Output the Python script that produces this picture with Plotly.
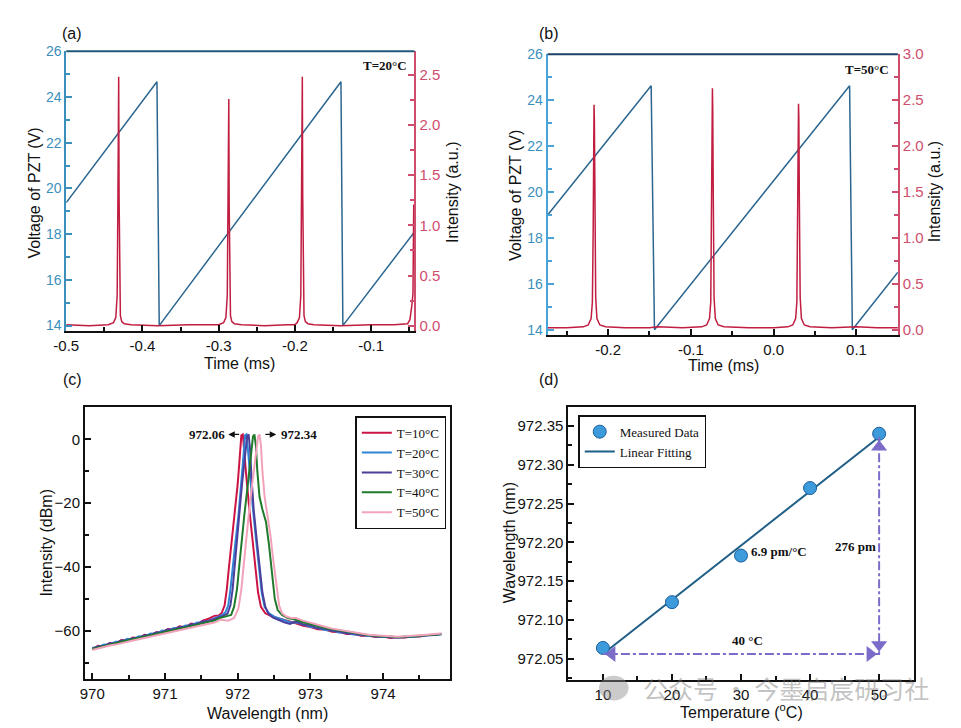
import numpy as np
import plotly.graph_objects as go

W, H = 961, 728

# ---------------- (a) T = 20 C ----------------
a_pzt_t = [-0.500, -0.381, -0.378, -0.1395, -0.137, -0.043]
a_pzt_v = [19.38, 24.67, 14.00, 24.67, 14.00, 18.10]
a_int_t = [-0.500, -0.470, -0.445, -0.4380, -0.4350, -0.4332, -0.4322, -0.4317, -0.4312, -0.4307, -0.4300, -0.4290, -0.4272, -0.4240, -0.4150,
           -0.380, -0.340,
           -0.3000, -0.2935, -0.2905, -0.2887, -0.2877, -0.2872, -0.2867, -0.2862, -0.2855, -0.2845, -0.2827, -0.2795, -0.2700,
           -0.240, -0.210,
           -0.2000, -0.1970, -0.1940, -0.1922, -0.1912, -0.1907, -0.1902, -0.1897, -0.1890, -0.1880, -0.1862, -0.1830, -0.1750,
           -0.140, -0.100, -0.070,
           -0.0520, -0.0490, -0.0465, -0.0450, -0.0440, -0.0430]
a_int_v = [0.01, 0.00, 0.01, 0.03, 0.08, 0.30, 1.28, 1.90, 2.48, 1.30, 0.30, 0.10, 0.04, 0.02, 0.01,
           0.00, 0.01,
           0.01, 0.03, 0.08, 0.30, 1.12, 1.70, 2.26, 1.20, 0.30, 0.10, 0.04, 0.02, 0.01,
           0.00, 0.01,
           0.01, 0.03, 0.08, 0.30, 1.30, 1.90, 2.48, 1.30, 0.30, 0.10, 0.04, 0.02, 0.01,
           0.00, 0.01, 0.01,
           0.02, 0.06, 0.20, 0.32, 1.20, 1.20]
a_x_ticks = [-0.5, -0.4, -0.3, -0.2, -0.1]
a_x_labels = ["-0.5", "-0.4", "-0.3", "-0.2", "-0.1"]

# ---------------- (b) T = 50 C ----------------
b_pzt_t = [-0.273, -0.148, -0.144, 0.0917, 0.095, 0.150]
b_pzt_v = [19.00, 24.63, 14.00, 24.63, 14.00, 16.50]
b_int_t = [-0.273, -0.250, -0.2300, -0.2240, -0.2205, -0.2190, -0.2180, -0.2174, -0.2170, -0.2166, -0.2160, -0.2150, -0.2135, -0.2100, -0.2030,
           -0.180, -0.150, -0.140, -0.110,
           -0.0870, -0.0810, -0.0775, -0.0760, -0.0750, -0.0744, -0.0740, -0.0736, -0.0730, -0.0720, -0.0705, -0.0670, -0.0600,
           -0.030, 0.000,
           0.0170, 0.0230, 0.0265, 0.0280, 0.0290, 0.0296, 0.0300, 0.0304, 0.0310, 0.0320, 0.0335, 0.0370, 0.0440,
           0.070, 0.100, 0.125, 0.150]
b_int_v = [0.02, 0.02, 0.03, 0.05, 0.12, 0.30, 1.10, 2.20, 2.45, 2.30, 1.60, 0.35, 0.12, 0.05, 0.03,
           0.02, 0.02, 0.03, 0.02,
           0.03, 0.05, 0.12, 0.30, 1.20, 2.35, 2.63, 2.40, 1.50, 0.35, 0.12, 0.05, 0.03,
           0.02, 0.02,
           0.03, 0.05, 0.12, 0.30, 1.10, 2.25, 2.46, 2.30, 1.40, 0.35, 0.12, 0.05, 0.03,
           0.02, 0.03, 0.02, 0.02]
b_x_ticks = [-0.2, -0.1, 0.0, 0.1]
b_x_labels = ["-0.2", "-0.1", "0.0", "0.1"]

# ---------------- (c) spectra ----------------
spec_names = ["T=10°C", "T=20°C", "T=30°C", "T=40°C", "T=50°C"]
left_tail_nm = [970.00, 970.08, 970.16, 970.24, 970.32, 970.40, 970.48, 970.56, 970.64, 970.72, 970.80,
                970.88, 970.96, 971.04, 971.12, 971.20, 971.28, 971.36, 971.44, 971.52, 971.60, 971.68]
right_tail_nm = [972.80, 972.90, 973.00, 973.10, 973.20, 973.30, 973.40, 973.50, 973.60, 973.70, 973.80,
                 973.90, 974.00, 974.10, 974.20, 974.30, 974.40, 974.50, 974.60, 974.70, 974.80]
left_tail_dbm = [
    [-65.8, -64.7, -64.9, -63.8, -64.0, -62.9, -63.1, -62.1, -62.3, -61.2, -61.5, -60.4, -60.5, -59.4, -59.7, -58.6, -58.9, -57.7, -58.0, -56.8, -56.2, -55.3],
    [-65.3, -65.2, -64.3, -64.4, -63.4, -63.5, -62.5, -62.7, -61.7, -61.9, -60.8, -61.0, -59.9, -60.1, -59.1, -59.3, -58.3, -58.4, -57.4, -57.5, -56.9, -56.0],
    [-65.6, -64.8, -64.8, -63.9, -63.9, -63.0, -63.0, -62.2, -62.2, -61.4, -61.3, -60.5, -60.4, -59.6, -59.5, -58.8, -58.8, -57.9, -57.9, -57.0, -56.9, -56.3],
    [-65.7, -65.2, -64.8, -64.3, -63.9, -63.4, -63.0, -62.6, -62.2, -61.8, -61.3, -60.9, -60.5, -60.0, -59.7, -59.2, -58.9, -58.4, -58.1, -57.6, -57.2, -56.8],
    [-66.0, -65.5, -65.1, -64.6, -64.3, -63.8, -63.4, -63.0, -62.6, -62.2, -61.8, -61.4, -61.0, -60.6, -60.2, -59.8, -59.4, -59.0, -58.7, -58.2, -57.9, -57.4],
]
core_nm = [
    [971.74, 971.78, 971.82, 971.85, 971.88, 971.92, 971.96, 972.00, 972.03, 972.05, 972.07, 972.09, 972.12, 972.16, 972.20, 972.24, 972.28, 972.32, 972.38, 972.46, 972.55, 972.65, 972.72],
    [971.73, 971.79, 971.83, 971.87, 971.90, 971.93, 971.97, 972.01, 972.05, 972.08, 972.10, 972.12, 972.14, 972.17, 972.21, 972.25, 972.29, 972.33, 972.37, 972.43, 972.51, 972.59, 972.67, 972.73],
    [971.74, 971.80, 971.86, 971.90, 971.93, 971.96, 971.99, 972.02, 972.06, 972.10, 972.13, 972.15, 972.17, 972.19, 972.22, 972.26, 972.30, 972.34, 972.38, 972.42, 972.48, 972.56, 972.64, 972.72],
    [971.75, 971.83, 971.91, 971.95, 971.99, 972.02, 972.05, 972.09, 972.14, 972.18, 972.21, 972.23, 972.25, 972.27, 972.30, 972.34, 972.39, 972.43, 972.47, 972.51, 972.55, 972.61, 972.69, 972.75],
    [971.77, 971.87, 971.95, 972.01, 972.05, 972.08, 972.11, 972.15, 972.20, 972.25, 972.28, 972.30, 972.32, 972.34, 972.37, 972.41, 972.45, 972.49, 972.53, 972.57, 972.61, 972.67, 972.74],
]
core_dbm = [
    [-55.2, -54.4, -52.0, -47.0, -40.0, -32.0, -24.0, -14.0, -5.0, 1.2, 1.5, -3.0, -12.0, -22.0, -31.0, -40.0, -48.0, -52.5, -54.5, -55.4, -56.0, -56.6, -56.9],
    [-55.6, -55.0, -54.2, -52.0, -47.0, -40.0, -32.0, -24.0, -14.0, -5.0, 1.2, 1.5, -3.0, -12.0, -22.0, -31.0, -40.0, -48.0, -52.5, -54.5, -55.6, -56.3, -57.0, -57.4],
    [-55.8, -55.3, -54.6, -52.0, -47.0, -40.0, -32.0, -24.0, -14.0, -5.0, 1.0, 1.5, -3.0, -12.0, -22.0, -31.0, -40.0, -48.0, -52.5, -54.5, -55.8, -56.6, -57.3, -57.8],
    [-56.0, -55.6, -55.0, -52.5, -47.0, -40.0, -32.0, -24.0, -14.0, -5.0, 0.8, 1.5, -2.0, -10.0, -18.0, -22.0, -26.0, -33.0, -42.0, -50.0, -53.5, -55.0, -56.0, -56.3],
    [-56.5, -56.8, -56.0, -53.0, -47.0, -40.0, -32.0, -24.0, -14.0, -5.0, 0.8, 1.5, -2.0, -10.0, -18.0, -24.0, -30.0, -38.0, -46.0, -52.0, -54.5, -55.5, -56.0],
]
right_tail_dbm = [
    [-57.6, -58.4, -58.8, -59.5, -59.6, -60.3, -60.4, -61.0, -61.0, -61.5, -61.5, -61.9, -61.8, -62.2, -62.0, -62.1, -61.8, -61.8, -61.4, -61.3, -61.0],
    [-57.3, -58.0, -58.7, -59.1, -59.7, -59.9, -60.5, -60.6, -61.1, -61.2, -61.6, -61.6, -61.9, -61.9, -62.1, -61.9, -61.9, -61.6, -61.5, -61.2, -61.1],
    [-57.0, -58.0, -58.3, -59.2, -59.3, -60.0, -60.1, -60.8, -60.8, -61.4, -61.3, -61.8, -61.7, -62.1, -61.9, -62.0, -61.7, -61.7, -61.3, -61.3, -60.9],
    [-56.5, -57.3, -58.0, -58.5, -59.1, -59.5, -60.0, -60.4, -60.8, -61.1, -61.4, -61.5, -61.8, -61.8, -62.0, -61.8, -61.8, -61.5, -61.4, -61.1, -61.0],
    [-56.0, -56.8, -57.5, -58.2, -58.7, -59.3, -59.7, -60.2, -60.6, -60.9, -61.2, -61.4, -61.6, -61.7, -61.8, -61.7, -61.6, -61.4, -61.2, -61.0, -60.8],
]
peak_first, peak_last = 972.06, 972.34

# ---------------- (d) wavelength vs temperature ----------------
temps = [10, 20, 30, 40, 50]
wl = [972.064, 972.123, 972.183, 972.270, 972.340]

SANS = "Liberation Sans, Arial, sans-serif"
SERIF = "Liberation Serif, Times New Roman, serif"
TEAL = "#3b8fbd"
PINK = "#cf4d6c"
PZT = "#2b6690"
SPIKE = "#c11d40"
spec_colors = ["#cc1444", "#2f86d6", "#4b3f9c", "#1f7a2c", "#f2a3bb"]
ARROW = "#7b6cc9"


def P(xp, yp):
    return xp / W, 1 - yp / H


fig = go.Figure()

# (a)
fig.add_trace(go.Scatter(x=a_pzt_t, y=a_pzt_v, mode="lines", line=dict(color=PZT, width=1.5),
                         xaxis="x", yaxis="y", showlegend=False))
fig.add_trace(go.Scatter(x=a_int_t, y=a_int_v, mode="lines", line=dict(color=SPIKE, width=1.5),
                         xaxis="x", yaxis="y2", showlegend=False))
# (b)
fig.add_trace(go.Scatter(x=b_pzt_t, y=b_pzt_v, mode="lines", line=dict(color=PZT, width=1.5),
                         xaxis="x2", yaxis="y3", showlegend=False))
fig.add_trace(go.Scatter(x=b_int_t, y=b_int_v, mode="lines", line=dict(color=SPIKE, width=1.5),
                         xaxis="x2", yaxis="y4", showlegend=False))
# (c)
for i, name in enumerate(spec_names):
    xs = left_tail_nm + core_nm[i] + right_tail_nm
    ys = left_tail_dbm[i] + core_dbm[i] + right_tail_dbm[i]
    fig.add_trace(go.Scatter(x=xs, y=ys, mode="lines", name=name,
                             line=dict(color=spec_colors[i], width=2),
                             xaxis="x3", yaxis="y5", legend="legend"))
# (d)
slope, icpt = np.polyfit(temps, wl, 1)
fit_x = [temps[0], temps[-1]]
fit_y = [slope * t + icpt for t in fit_x]
fig.add_trace(go.Scatter(x=fit_x, y=fit_y, mode="lines", name="Linear Fitting",
                         line=dict(color="#1f5e86", width=2), xaxis="x4", yaxis="y6",
                         legend="legend2", legendrank=2))
fig.add_trace(go.Scatter(x=temps, y=wl, mode="markers", name="Measured Data",
                         marker=dict(color="#3d9bdc", size=13, line=dict(color="#1c5f9a", width=1)),
                         xaxis="x4", yaxis="y6", legend="legend2", legendrank=1))
# dash-dot guides
fig.add_trace(go.Scatter(x=[temps[0], temps[-1], temps[-1]], y=[fit_y[0], fit_y[0], fit_y[1]],
                         mode="lines", line=dict(color=ARROW, width=2, dash="dashdot"),
                         xaxis="x4", yaxis="y6", showlegend=False))
fig.add_trace(go.Scatter(x=[temps[0] + 1.3, temps[-1] - 1.3, temps[-1], temps[-1]],
                         y=[fit_y[0], fit_y[0], fit_y[0] + 0.012, fit_y[1] - 0.013],
                         mode="markers",
                         marker=dict(symbol=["triangle-left", "triangle-right", "triangle-down", "triangle-up"],
                                     size=14, color=ARROW),
                         xaxis="x4", yaxis="y6", showlegend=False))

common_ax = dict(showgrid=False, zeroline=False, showline=True, ticks="inside", ticklen=6, tickwidth=1.5,
                 linewidth=2)

fig.update_layout(
    width=W, height=H, margin=dict(l=0, r=0, t=0, b=0),
    paper_bgcolor="white", plot_bgcolor="white",
    font=dict(family=SANS, size=14, color="#222"),
    xaxis=dict(domain=[54 / W, 407 / W], anchor="y", range=[-0.5, -0.043],
               tickvals=a_x_ticks, ticktext=a_x_labels, linecolor="#111", tickcolor="#111",
               minor=dict(ticks="inside", dtick=0.05, ticklen=4, tickcolor="#111"),
               tickfont=dict(size=15, color="#111"), **common_ax),
    yaxis=dict(domain=[1 - 327 / H, 1 - 43 / H], anchor="x", range=[13.78, 26], dtick=2,
               linecolor=TEAL, tickcolor=TEAL, tickfont=dict(size=14, color=TEAL),
               minor=dict(ticks="inside", dtick=1, ticklen=4, tickcolor=TEAL), **common_ax),
    yaxis2=dict(overlaying="y", side="right", anchor="x", range=[-0.049, 2.735], dtick=0.5, tickformat=".1f",
                linecolor=PINK, tickcolor=PINK, tickfont=dict(size=15, color=PINK),
                minor=dict(ticks="inside", dtick=0.25, ticklen=4, tickcolor=PINK), **common_ax),
    xaxis2=dict(domain=[542 / W, 897 / W], anchor="y3", range=[-0.273, 0.15],
                tickvals=b_x_ticks, ticktext=b_x_labels, linecolor="#111", tickcolor="#111",
                minor=dict(ticks="inside", dtick=0.05, ticklen=4, tickcolor="#111"),
                tickfont=dict(size=15, color="#111"), **common_ax),
    yaxis3=dict(domain=[1 - 331 / H, 1 - 46 / H], anchor="x2", range=[13.79, 26], dtick=2,
                linecolor="#4aa3d6", tickcolor="#4aa3d6", tickfont=dict(size=14, color=TEAL),
                minor=dict(ticks="inside", dtick=1, ticklen=4, tickcolor="#4aa3d6"), **common_ax),
    yaxis4=dict(overlaying="y3", side="right", anchor="x2", range=[-0.054, 3.0], dtick=0.5, tickformat=".1f",
                linecolor=PINK, tickcolor=PINK, tickfont=dict(size=15, color=PINK),
                minor=dict(ticks="inside", dtick=0.25, ticklen=4, tickcolor=PINK), **common_ax),
    xaxis3=dict(domain=[73 / W, 443 / W], anchor="y5", range=[969.9, 974.92], dtick=1, mirror=True,
                linecolor="#111", tickcolor="#111", tickfont=dict(size=15, color="#111"),
                minor=dict(ticks="inside", dtick=0.5, ticklen=4, tickcolor="#111"), **common_ax),
    yaxis5=dict(domain=[1 - 681 / H, 1 - 405 / H], anchor="x3", range=[-75, 10], dtick=20, mirror=True,
                linecolor="#111", tickcolor="#111", tickfont=dict(size=15, color="#111"),
                minor=dict(ticks="inside", dtick=10, ticklen=4, tickcolor="#111"), **common_ax),
    xaxis4=dict(domain=[563 / W, 913 / W], anchor="y6", range=[5, 55], dtick=10, mirror=True,
                linecolor="#111", tickcolor="#111", tickfont=dict(size=15, color="#111"),
                minor=dict(ticks="inside", dtick=5, ticklen=4, tickcolor="#111"), **common_ax),
    yaxis6=dict(domain=[1 - 682 / H, 1 - 405 / H], anchor="x4", range=[972.023, 972.374], dtick=0.05,
                tickformat=".2f", mirror=True,
                linecolor="#111", tickcolor="#111", tickfont=dict(size=15, color="#111"),
                minor=dict(ticks="inside", dtick=0.025, ticklen=4, tickcolor="#111"), **common_ax),
    legend=dict(x=347 / W, y=1 - 414 / H, xanchor="left", yanchor="top", bgcolor="white",
                bordercolor="#111", borderwidth=1.5, font=dict(family=SERIF, size=13, color="#111"),
                itemwidth=30, tracegroupgap=0),
    legend2=dict(x=573 / W, y=1 - 413 / H, xanchor="left", yanchor="top", bgcolor="white",
                 bordercolor="#111", borderwidth=1.5, font=dict(family=SERIF, size=13, color="#111"),
                 itemwidth=30, tracegroupgap=0),
)

# top borders of (a) and (b)
fig.add_shape(type="line", xref="x domain", yref="y domain", x0=0, x1=1, y0=1, y1=1,
              line=dict(color="#1f5a7c", width=2))
fig.add_shape(type="line", xref="x2 domain", yref="y3 domain", x0=0, x1=1, y0=1, y1=1,
              line=dict(color="#1d3f68", width=2))

ann = []


def text(xp, yp, s, size=16, family=SANS, color="#111", angle=0, bold=False, xanchor="center"):
    x, y = P(xp, yp)
    ann.append(dict(x=x, y=y, xref="paper", yref="paper", text=f"<b>{s}</b>" if bold else s,
                    showarrow=False, textangle=angle, xanchor=xanchor, yanchor="middle",
                    font=dict(size=size, family=family, color=color)))


# panel labels
text(60, 25, "(a)", 16)
text(543, 25, "(b)", 16)
text(60, 377, "(c)", 16)
text(543, 377, "(d)", 16)
# axis titles
text(230, 360, "Time (ms)", 16)
text(22, 187, "Voltage of PZT (V)", 16, angle=-90)
text(446, 186, "Intensity (a.u.)", 16, angle=-90)
text(720, 362, "Time (ms)", 16)
text(510, 190, "Voltage of PZT (V)", 16, angle=-90)
text(935, 186, "Intensity (a.u.)", 16, angle=-90)
text(258, 716, "Wavelength (nm)", 16)
text(33, 543, "Intensity (dBm)", 16, angle=-90)
text(738, 714, "Temperature (<sup>o</sup>C)", 16)
text(503, 543, "Wavelength (nm)", 16, angle=-90)
# in-plot notes
text(377, 57, "T=20°C", 13, family=SERIF, bold=True)
text(866, 62, "T=50°C", 13, family=SERIF, bold=True)
text(197, 433, "972.06", 13, family=SERIF, bold=True)
text(290, 433, "972.34", 13, family=SERIF, bold=True)
text(777, 552, "6.9 pm/°C", 13, family=SERIF, bold=True)
text(854, 547, "276 pm", 13, family=SERIF, bold=True)
text(745, 642, "40 °C", 13, family=SERIF, bold=True)
# watermark
text(784, 690, "公众号 · 今墨启宸研习社", 25, family="Noto Sans CJK SC", color="rgba(120,120,120,0.45)")

# arrows next to peak labels in (c)
ann.append(dict(x=peak_first - 0.19, y=1.5, ax=peak_first - 0.02, ay=1.5, xref="x3", yref="y5",
                axref="x3", ayref="y5", showarrow=True, arrowhead=2, arrowsize=1, arrowwidth=1.3,
                arrowcolor="#111", text=""))
ann.append(dict(x=peak_last + 0.19, y=1.5, ax=peak_last + 0.02, ay=1.5, xref="x3", yref="y5",
                axref="x3", ayref="y5", showarrow=True, arrowhead=2, arrowsize=1, arrowwidth=1.3,
                arrowcolor="#111", text=""))
fig.update_layout(annotations=ann)

# watermark icon
fig.add_shape(type="circle", xref="paper", yref="paper", x0=594 / W, x1=624 / W, y0=1 - 703 / H, y1=1 - 678 / H,
              fillcolor="rgba(140,140,140,0.45)", line=dict(width=0))

fig.write_html("out.html")
